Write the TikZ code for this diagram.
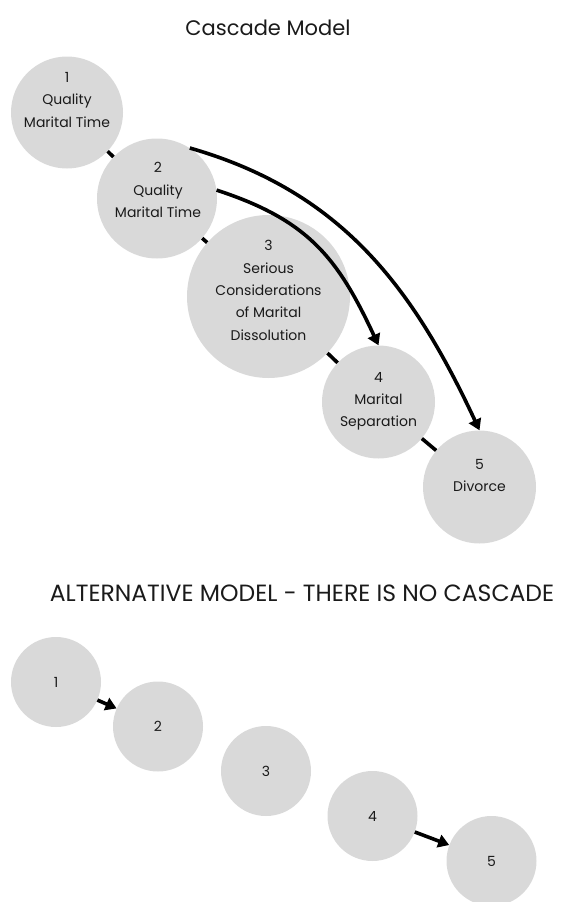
\documentclass[tikz,border=0pt]{standalone}
\usepackage{fontspec}
\setmainfont{Poppins}
\usetikzlibrary{arrows.meta}
\definecolor{discgray}{HTML}{D9D9D9}
\definecolor{ink}{HTML}{1A1A1A}

\begin{document}
\begin{tikzpicture}[x=1pt,y=-1pt,
  disc/.style={circle, fill=discgray, inner sep=0pt, minimum size=#1},
  txt/.style={align=center, text=ink, font=\fontsize{14}{22.3}\selectfont},
  num/.style={text=ink, font=\fontsize{14}{17}\selectfont},
  heading/.style={text=ink, font=\fontsize{21}{25}\selectfont},
  link/.style={draw=black, line width=3.6pt},
  flow/.style={draw=black, line width=3.6pt, -{Triangle[width=13pt,length=11pt]}}
]
\path[use as bounding box] (0,0) rectangle (561,902);
\clip (0,0) rectangle (561,902);

% ---- cascade model ----
\node[heading] (t1) at (268,28) {Cascade Model};

\node[disc=112pt] (u1) at (67,112.5) {};
\node[disc=120pt] (u2) at (157,198.5) {};
\node[disc=163pt] (u3) at (268.5,296.5) {};
\node[disc=113pt] (u4) at (378.5,402) {};
\node[disc=113pt] (u5) at (479.5,487) {};

\node[txt] (u1t) at (67,100) {1\\Quality\\Marital Time};
\node[txt] (u2t) at (158,190) {2\\Quality\\Marital Time};
\node[txt] (u3t) at (268.5,290.5) {3\\Serious\\Considerations\\of Marital\\Dissolution};
\node[txt] (u4t) at (378.5,401.5) {4\\Marital\\Separation};
\node[txt] (u5t) at (479.5,475.5) {5\\Divorce};

\draw[link] (u1) -- (u2);
\draw[link] (u2) -- (u3);
\draw[link] (u3) -- (u4);
\draw[link] (u4) -- (u5);

\draw[flow] (u2.8) to[out=-18,in=115,looseness=1.1] (u4.north);
\draw[flow] (u2.57) to[out=-16,in=115] (u5.north);

% ---- alternative model ----
\node[heading, font=\fontsize{23.5}{28}\selectfont] (t2) at (302,593) {ALTERNATIVE MODEL - THERE IS NO CASCADE};

\node[disc=90pt] (l1) at (56,682) {};
\node[disc=90pt] (l2) at (158,726.5) {};
\node[disc=90pt] (l3) at (266,771) {};
\node[disc=90pt] (l4) at (372.5,816) {};
\node[disc=90pt] (l5) at (491.5,861) {};

\node[num] at (l1) {1};
\node[num] at (l2) {2};
\node[num] at (l3) {3};
\node[num] at (l4) {4};
\node[num] at (l5) {5};

\draw[flow] (l1) -- (l2);
\draw[flow] (l4) -- (l5);
\end{tikzpicture}
\end{document}
